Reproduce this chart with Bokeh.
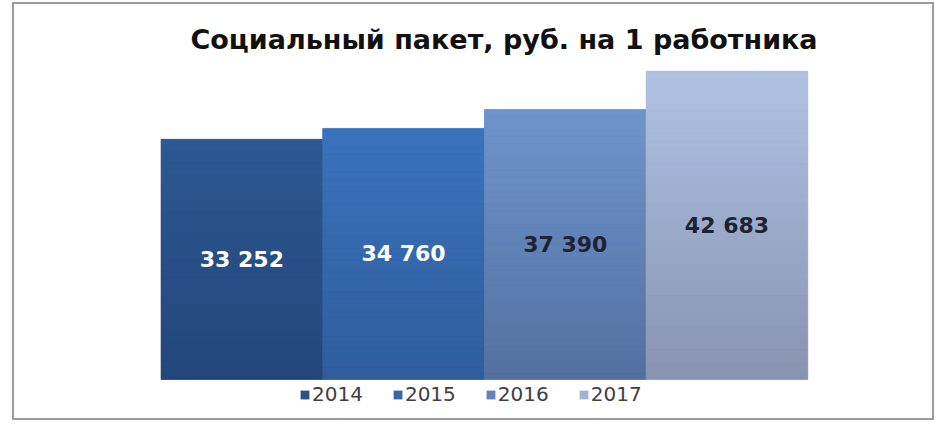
from bokeh.plotting import figure
from bokeh.models import Range1d, Label, Legend, LegendItem, ColumnDataSource
from bokeh.embed import file_html
from bokeh.resources import INLINE
from bokeh.core.properties import value

# ---- data ----
years = ["2014", "2015", "2016", "2017"]
values = [33252, 34760, 37390, 42683]
value_labels = ["33 252", "34 760", "37 390", "42 683"]
title_text = "Социальный пакет, руб. на 1 работника"

# ---- styles ----
top_colors = ["#2c5893", "#3a73bd", "#6f94cc", "#b0c2e2"]
bottom_colors = ["#23467a", "#2f5d9c", "#5370a0", "#8893b2"]
legend_colors = ["#2b5189", "#3567ab", "#6382b8", "#a2b2d2"]
label_colors = ["#ffffff", "#ffffff", "#1c2333", "#1c2333"]

# ---- layout (pixels in the canvas) ----
W, H = 922, 418
bar_left_px, bar_right_px = 148.5, 795.3
base_px, top_px = 377.0, 68.7
xscale = (bar_right_px - bar_left_px) / len(values)
yscale = (base_px - top_px) / max(values)
x_start = -bar_left_px / xscale
x_end = (W - bar_left_px) / xscale
y_start = -(H - base_px) / yscale
y_end = base_px / yscale

p = figure(width=W, height=H, title=None,
           x_range=Range1d(x_start, x_end), y_range=Range1d(y_start, y_end),
           output_backend="svg", toolbar_location=None, tools="",
           x_axis_location=None, y_axis_location=None, min_border=0)
p.grid.visible = False
p.outline_line_color = "#9c9c9c"
p.outline_line_width = 3
p.background_fill_color = "white"
p.border_fill_color = "white"
p.styles = {"margin-left": "12px", "margin-top": "2px"}

xs = [i + 0.5 for i in range(len(values))]

# base bars (legend renderers)
renderers = []
for i, (yr, v) in enumerate(zip(years, values)):
    r = p.vbar(x=[xs[i]], top=[v], bottom=[0], width=1.0,
               fill_color=legend_colors[i], line_color=None)
    renderers.append(r)


def hex2rgb(h):
    h = h.lstrip("#")
    return tuple(int(h[k:k + 2], 16) for k in (0, 2, 4))


def lerp(c1, c2, t):
    a, b = hex2rgb(c1), hex2rgb(c2)
    return "#%02x%02x%02x" % tuple(int(round(a[k] + (b[k] - a[k]) * t)) for k in range(3))


# vertical gradient overlay, segments derived from each bar's value
N = 40
gx, gb, gt, gc = [], [], [], []
for i, v in enumerate(values):
    for k in range(N):
        gx.append(xs[i])
        gb.append(v * k / N)
        gt.append(v * (k + 1) / N)
        gc.append(lerp(bottom_colors[i], top_colors[i], (k + 0.5) / N))
p.vbar(x="x", bottom="b", top="t", width=1.0, fill_color="c", line_color="c",
       line_width=0.6, source=ColumnDataSource(dict(x=gx, b=gb, t=gt, c=gc)))

# value labels at the middle of each bar
lab_src = ColumnDataSource(dict(x=xs, y=[v / 2 for v in values],
                                t=value_labels, c=label_colors))
p.text(x="x", y="y", text="t", text_color="c", source=lab_src,
       text_font=value("DejaVu Sans"), text_font_style="bold",
       text_font_size="22px", text_align="center", text_baseline="middle")

# title
title_cx_px, title_base_px = 491.5, 37.0
p.add_layout(Label(x=(title_cx_px - bar_left_px) / xscale,
                   y=(base_px - title_base_px) / yscale,
                   text=title_text, text_font="DejaVu Sans", text_font_style="bold",
                   text_font_size="27px", text_align="center",
                   text_baseline="alphabetic", text_color="#111111"))

legend = Legend(items=[LegendItem(label=yr, renderers=[r]) for yr, r in zip(years, renderers)],
                orientation="horizontal", location=(287, 14), padding=0, margin=0,
                spacing=29, glyph_width=11, glyph_height=11, label_standoff=2,
                label_height=20, label_text_font="DejaVu Sans",
                label_text_font_size="20px", label_text_color="#404040",
                border_line_color=None, background_fill_alpha=0)
p.add_layout(legend)

open("out.html", "w").write(file_html(p, INLINE))
